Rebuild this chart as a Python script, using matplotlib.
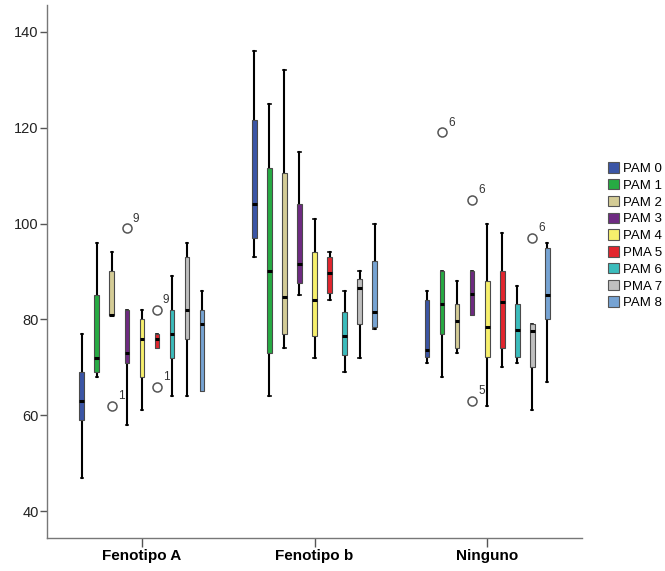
import matplotlib
matplotlib.use("Agg")
import matplotlib.pyplot as plt
from matplotlib.patches import Patch

# grupos y series
grupos = ["Fenotipo A", "Fenotipo b", "Ninguno"]
series = ["PAM 0", "PAM 1", "PAM 2", "PAM 3", "PAM 4", "PMA 5", "PAM 6", "PMA 7", "PAM 8"]
colores = ["#3b55a6", "#27ab43", "#d4cc96", "#6e2a82", "#f7f06c",
           "#e2262e", "#3bbcbc", "#bfbfbf", "#76a3d3"]

# estadisticos (una lista por grupo, 9 series)
bigote_inf = [[47, 68, 81, 58, 61, 74, 64, 64, 65],
              [93, 64, 74, 85, 72, 84, 69, 72, 78],
              [71, 68, 73, 81, 62, 70, 71, 61, 67]]
q1 = [[59, 69, 81, 71, 68, 74, 72, 76, 65],
      [97, 73, 77, 87.6, 76.6, 85.6, 72.6, 79, 78.5],
      [72.2, 77, 74, 81, 72.2, 74, 72.2, 70, 80]]
mediana = [[63, 72, 81, 73, 76, 76, 77, 82, 79],
           [104, 90, 84.6, 91.6, 84, 89.6, 76.6, 86.6, 81.5],
           [73.7, 83.2, 79.6, 85.3, 78.5, 83.7, 77.8, 77.6, 85.1]]
q3 = [[69, 85, 90, 82, 80, 77, 82, 93, 82],
      [121.5, 111.6, 110.6, 104, 94, 93, 81.5, 88.5, 92.2],
      [84, 90, 83.2, 90, 88, 90, 83.2, 79, 95]]
bigote_sup = [[77, 96, 94, 82, 82, 77, 89, 96, 86],
              [136, 125, 132, 115, 101, 94, 86, 90, 100],
              [86, 90, 88, 90, 100, 98, 87, 79, 96]]

# atipicos: (grupo, serie, valor, etiqueta)
atipicos = [(0, 2, 62, "1"), (0, 3, 99, "9"), (0, 5, 82, "9"), (0, 5, 66, "1"),
            (2, 1, 119, "6"), (2, 3, 105, "6"), (2, 3, 63, "5"), (2, 7, 97, "6")]

fig = plt.figure(figsize=(6.65, 5.71), dpi=100)
ax = fig.add_axes([0.0707, 0.0578, 0.8045, 0.9335])

paso = 0.087
ancho = 0.028
for g in range(len(grupos)):
    for s in range(len(series)):
        x = g + (s - 4) * paso
        st = [dict(whislo=bigote_inf[g][s], q1=q1[g][s], med=mediana[g][s],
                   q3=q3[g][s], whishi=bigote_sup[g][s], fliers=[])]
        ax.bxp(st, positions=[x], widths=ancho, patch_artist=True,
               showfliers=False, manage_ticks=False,
               boxprops=dict(facecolor=colores[s], edgecolor="#4a4a4a", linewidth=0.8, zorder=3),
               whiskerprops=dict(color="black", linewidth=1.5, zorder=2),
               capprops=dict(color="black", linewidth=1.2),
               medianprops=dict(color="black", linewidth=2.2, zorder=4))

for g, s, v, lab in atipicos:
    x = g + (s - 4) * paso
    ax.plot(x, v, marker="o", ms=6.5, mfc="white", mec="#555555", mew=1.1, zorder=5)
    ax.text(x + 0.035, v + 0.8, lab, fontsize=8.5, color="#333333",
            family="Liberation Sans", va="bottom", ha="left")

ax.set_xlim(-0.55, 2.55)
ax.set_ylim(34.4, 145.6)
ax.set_yticks([40, 60, 80, 100, 120, 140])
ax.set_xticks(range(len(grupos)))
ax.set_xticklabels(grupos, fontweight="bold", fontsize=11,
                   family=["Liberation Sans Narrow", "Liberation Sans"])
for lab in ax.get_yticklabels():
    lab.set_family("Liberation Sans")
    lab.set_fontsize(10.5)
    lab.set_color("#222222")
ax.tick_params(axis="y", length=5, width=1, color="#555555", pad=1)
ax.tick_params(axis="x", length=6.5, width=1, color="#555555", pad=1.5)

for lado in ["top", "right"]:
    ax.spines[lado].set_visible(False)
for lado in ["left", "bottom"]:
    ax.spines[lado].set_color("#777777")
    ax.spines[lado].set_linewidth(1)

parches = [Patch(facecolor=c, edgecolor="#555555", linewidth=0.8, label=n)
           for c, n in zip(colores, series)]
fig.legend(handles=parches, loc="upper left", bbox_to_anchor=(0.914, 0.716),
           frameon=False, prop=dict(family="Liberation Sans", size=9.5),
           handlelength=0.85, handleheight=0.85, handletextpad=0.3,
           labelspacing=0.3, borderpad=0, borderaxespad=0)

fig.savefig("out.png", dpi=100)
